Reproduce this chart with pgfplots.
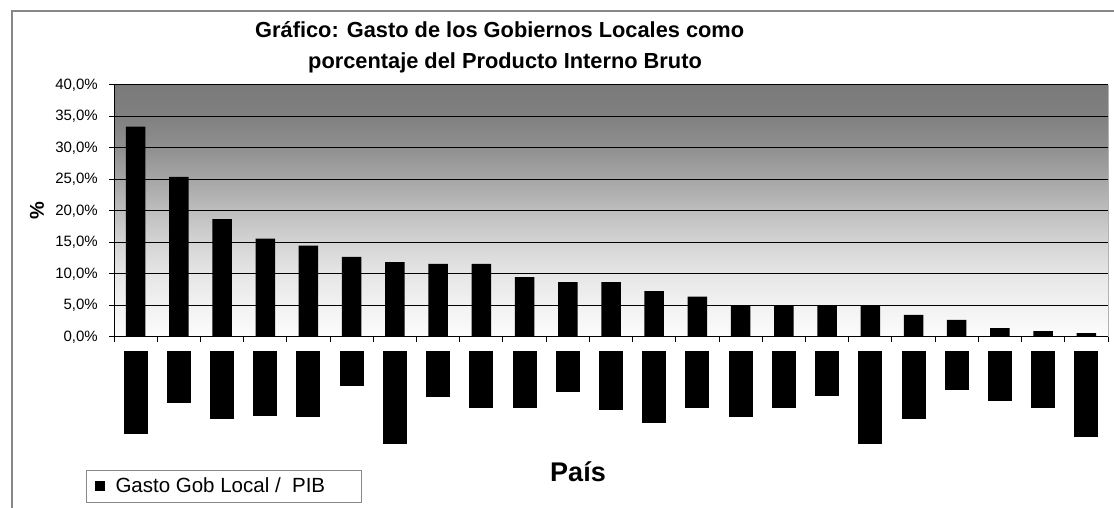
\documentclass[border=0pt]{standalone}
\usepackage{pgfplots}
\pgfplotsset{compat=1.18}
\usepackage{fontspec}
\setmainfont{Liberation Sans}
\definecolor{c0}{HTML}{FCFCFC}
\definecolor{c1}{HTML}{F2F2F2}
\definecolor{c2}{HTML}{E6E6E6}
\definecolor{c3}{HTML}{D4D4D4}
\definecolor{c4}{HTML}{BEBEBE}
\definecolor{c5}{HTML}{A6A6A6}
\definecolor{c6}{HTML}{909090}
\definecolor{c7}{HTML}{808080}
\definecolor{c8}{HTML}{7A7A7A}
\definecolor{framegray}{HTML}{888888}
\pgfdeclareverticalshading{chartbg}{100bp}{color(0bp)=(c0); color(25bp)=(c0); color(31.25bp)=(c1); color(37.5bp)=(c2); color(43.75bp)=(c3); color(50bp)=(c4); color(56.25bp)=(c5); color(62.5bp)=(c6); color(68.75bp)=(c7); color(75bp)=(c8); color(100bp)=(c8)}
\begin{document}
\begin{tikzpicture}
\path[use as bounding box, fill=white] (0,0) rectangle (1114pt,508pt);
\draw[framegray, line width=1.5pt] (12pt,0pt) -- (12pt,497pt) -- (1114pt,497pt);
\begin{axis}[
  at={(114pt,171pt)}, anchor=south west,
  scale only axis, width=994pt, height=252pt,
  xmin=0.5, xmax=23.5, ymin=0, ymax=40,
  axis x line*=bottom, axis y line*=left,
  axis line style={-, black, line width=1pt},
  axis background/.style={shade, shading=chartbg},
  ybar, bar width=19.5pt,
  ytick={0,5,...,40},
  yticklabels={{0,0\%},{5,0\%},{10,0\%},{15,0\%},{20,0\%},{25,0\%},{30,0\%},{35,0\%},{40,0\%}},
  ymajorgrids, grid style={black, line width=1pt},
  xtick={0.5,1.5,...,23.5},
  x tick label as interval,
  xticklabels={\rule{24pt}{83pt},\rule{24pt}{52pt},\rule{24pt}{68pt},\rule{24pt}{65pt},\rule{24pt}{66pt},\rule{24pt}{35pt},\rule{24pt}{93pt},\rule{24pt}{46pt},\rule{24pt}{57pt},\rule{24pt}{57pt},\rule{24pt}{41pt},\rule{24pt}{59pt},\rule{24pt}{72pt},\rule{24pt}{57pt},\rule{24pt}{66pt},\rule{24pt}{57pt},\rule{24pt}{45pt},\rule{24pt}{93pt},\rule{24pt}{68pt},\rule{24pt}{39pt},\rule{24pt}{50pt},\rule{24pt}{57pt},\rule{24pt}{86pt}},
  tick align=outside, major tick length=5pt,
  tick style={black, line width=1pt},
  xticklabel style={inner sep=0pt, anchor=north, yshift=-9pt},
  yticklabel style={inner sep=0pt, anchor=east, xshift=-11pt},
  tick label style={font=\fontsize{15}{18}\selectfont},
  ylabel={\%},
  ylabel style={at={(axis description cs:-0.0775,0.5)}, anchor=center, font=\bfseries\fontsize{20}{24}\selectfont},
  xlabel={País},
  xlabel style={at={(axis description cs:0.4668,-0.5337)}, anchor=center, font=\bfseries\fontsize{27}{32}\selectfont},
  legend style={at={(axis description cs:-0.02817,-0.6587)}, anchor=south west, draw=framegray, line width=1pt, fill=white, font=\fontsize{20.5}{24}\selectfont, inner xsep=8pt, inner ysep=8pt, nodes={inner sep=0pt}, legend cell align=left},
  clip=false,
]
\addplot[fill=black, draw=none, legend image code/.code={\fill[black] (0pt,-5pt) rectangle (10pt,5pt); \path (21pt,0pt);}] coordinates {
(1,33.4) (2,25.4) (3,18.7) (4,15.6) (5,14.5) (6,12.7) (7,11.9) (8,11.6) (9,11.6) (10,9.5) (11,8.7) (12,8.7) (13,7.3) (14,6.4) (15,4.9) (16,4.9) (17,4.9) (18,4.9) (19,3.5) (20,2.7) (21,1.4) (22,0.95) (23,0.6)};
\addlegendentry{Gasto Gob Local /\ \ PIB\hspace*{28pt}}
\draw[gray!60, line width=1pt] (rel axis cs:1,0) -- (rel axis cs:1,1);
\end{axis}
\node[anchor=base west, inner sep=0pt, font=\bfseries\fontsize{21.8}{26}\selectfont] at (255pt,470.3pt) {Gráfico: Gasto de los Gobiernos Locales como};
\node[anchor=base west, inner sep=0pt, font=\bfseries\fontsize{21.8}{26}\selectfont] at (308pt,439pt) {porcentaje del Producto Interno Bruto};
\end{tikzpicture}
\end{document}
